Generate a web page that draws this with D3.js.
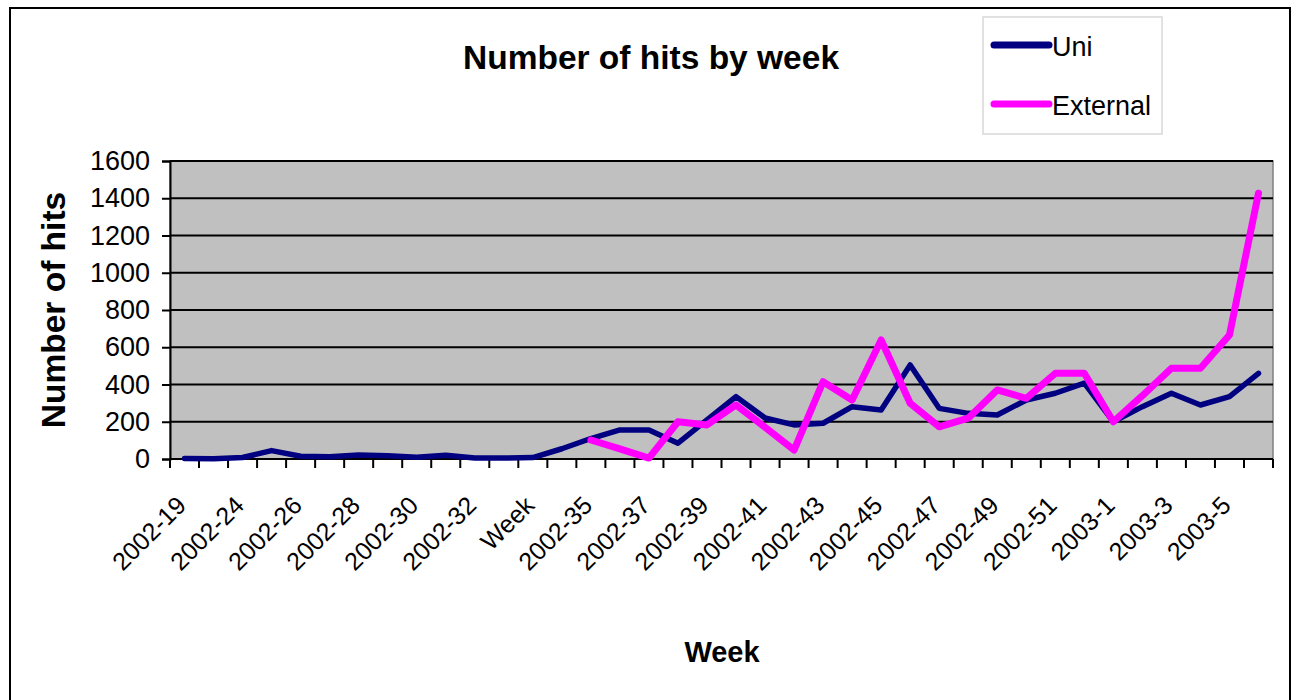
<!DOCTYPE html>
<html>
<head>
<meta charset="utf-8">
<script src="https://cdn.jsdelivr.net/npm/d3@7"></script>
<style>
  html, body { margin: 0; padding: 0; background: #fff; }
  svg { display: block; font-family: "Liberation Sans", Arial, sans-serif; }
</style>
</head>
<body>
<svg id="chart" width="1300" height="700"></svg>
<script>
// Week categories (every second one is labelled on the axis)
const weeks = ["2002-19","2002-23","2002-24","2002-25","2002-26","2002-27","2002-28","2002-29",
  "2002-30","2002-31","2002-32","2002-33","Week","2002-34","2002-35","2002-36","2002-37","2002-38",
  "2002-39","2002-40","2002-41","2002-42","2002-43","2002-44","2002-45","2002-46","2002-47","2002-48",
  "2002-49","2002-50","2002-51","2002-52","2003-1","2003-2","2003-3","2003-4","2003-5","2003-6"];

// Hits from inside the university
const uniHits = [3,2,8,45,15,12,22,18,10,20,5,5,8,55,110,156,156,85,210,335,220,183,192,281,
  263,505,272,245,236,317,353,407,200,281,353,290,335,460];

// Hits from outside (recorded from 2002-35 on)
const externalHits = [null,null,null,null,null,null,null,null,null,null,null,null,null,null,
  102,54,5,200,183,290,170,48,415,317,639,299,173,219,371,326,460,460,200,340,487,487,666,1427];

const yTicks = [0,200,400,600,800,1000,1200,1400,1600];

const seriesNames = ["Uni","External"];
const seriesColors = ["#000080","#ff00ff"];

const svg = d3.select("#chart");

// Outer chart frame
svg.append("rect").attr("x", 10).attr("y", 8).attr("width", 1280).attr("height", 710)
  .attr("fill", "#fff").attr("stroke", "#000").attr("stroke-width", 2);

const plot = { left: 170, right: 1273, top: 161, bottom: 459 };

const x = d3.scaleBand().domain(d3.range(weeks.length))
  .range([plot.left, plot.right]).paddingInner(0).paddingOuter(0);
const y = d3.scaleLinear().domain([0, 1600]).range([plot.bottom, plot.top]);

// Plot background
svg.append("rect").attr("x", plot.left).attr("y", plot.top)
  .attr("width", plot.right - plot.left).attr("height", plot.bottom - plot.top)
  .attr("fill", "#c0c0c0").attr("stroke", "#808080").attr("stroke-width", 1.5);

// Horizontal gridlines
svg.append("g").selectAll("line").data(yTicks.filter(t => t > 0)).join("line")
  .attr("x1", plot.left).attr("x2", plot.right)
  .attr("y1", d => y(d)).attr("y2", d => y(d))
  .attr("stroke", "#000").attr("stroke-width", 2);

// Y axis
const yAxis = d3.axisLeft(y).tickValues(yTicks).tickFormat(d3.format("d"))
  .tickSize(8).tickPadding(12);
const yg = svg.append("g").attr("transform", `translate(${plot.left},0)`).call(yAxis);
yg.select(".domain").attr("stroke", "#000").attr("stroke-width", 2);
yg.selectAll(".tick line").attr("stroke", "#000").attr("stroke-width", 2);
yg.selectAll(".tick text").attr("font-size", 27).attr("fill", "#000")
  .attr("font-family", "'Liberation Sans', Arial, sans-serif");

// X axis: ticks on category boundaries, labels on every second category
const xg = svg.append("g").attr("transform", `translate(0,${plot.bottom})`);
xg.append("line").attr("x1", plot.left).attr("x2", plot.right)
  .attr("stroke", "#000").attr("stroke-width", 2);
const boundaries = d3.range(weeks.length + 1);
const edge = d => d < weeks.length ? x(d) : x(weeks.length - 1) + x.bandwidth();
xg.selectAll("line.tk").data(boundaries).join("line").attr("class", "tk")
  .attr("x1", edge).attr("x2", edge)
  .attr("y1", 0).attr("y2", 9).attr("stroke", "#000").attr("stroke-width", 2);

const labelled = d3.range(0, weeks.length, 2);
xg.selectAll("text").data(labelled).join("text")
  .attr("text-anchor", "end")
  .attr("font-size", 25)
  .attr("fill", "#000")
  .attr("transform", d => `translate(${x(d) + x.bandwidth() / 2 + 3},${48}) rotate(-45)`)
  .text(d => weeks[d]);

// Series lines
const line = d3.line()
  .defined(d => d != null)
  .x((d, i) => x(i) + x.bandwidth() / 2)
  .y(d => y(d));

[uniHits, externalHits].forEach((vals, k) => {
  svg.append("path").datum(vals)
    .attr("d", line)
    .attr("fill", "none")
    .attr("stroke", seriesColors[k])
    .attr("stroke-width", k === 0 ? 5.5 : 7)
    .attr("stroke-linejoin", "round")
    .attr("stroke-linecap", "round");
});

// Titles
svg.append("text").attr("x", 651).attr("y", 69).attr("text-anchor", "middle")
  .attr("font-size", 33.5).attr("font-weight", "bold").text("Number of hits by week");

svg.append("text").attr("transform", "translate(65,310) rotate(-90)")
  .attr("text-anchor", "middle").attr("font-size", 33.5).attr("font-weight", "bold")
  .text("Number of hits");

svg.append("text").attr("x", 722).attr("y", 662).attr("text-anchor", "middle")
  .attr("font-size", 29).attr("font-weight", "bold").text("Week");

// Legend
const lg = svg.append("g");
lg.append("rect").attr("x", 983).attr("y", 17).attr("width", 179).attr("height", 117)
  .attr("fill", "#fff").attr("stroke", "#d8d8d8").attr("stroke-width", 1.5);
seriesNames.forEach((name, k) => {
  const cy = 45 + k * 59;
  lg.append("line").attr("x1", 994).attr("x2", 1049).attr("y1", cy).attr("y2", cy)
    .attr("stroke", seriesColors[k]).attr("stroke-width", 7).attr("stroke-linecap", "round");
  lg.append("text").attr("x", 1052).attr("y", cy + 11).attr("font-size", 27).text(name);
});
</script>
</body>
</html>
